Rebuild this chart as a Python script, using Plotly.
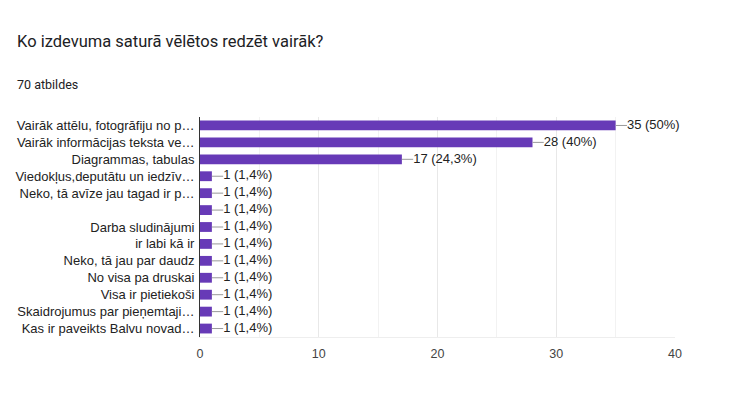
import plotly.graph_objects as go

categories = [
    "Vairāk attēlu, fotogrāfiju no p…",
    "Vairāk informācijas teksta ve…",
    "Diagrammas, tabulas",
    "Viedokļus,deputātu un iedzīv…",
    "Neko, tā avīze jau tagad ir p…",
    "",
    "Darba sludinājumi",
    "ir labi kā ir",
    "Neko, tā jau par daudz",
    "No visa pa druskai",
    "Visa ir pietiekoši",
    "Skaidrojumus par pieņemtaji…",
    "Kas ir paveikts Balvu novad…",
]
values = [35, 28, 17, 1, 1, 1, 1, 1, 1, 1, 1, 1, 1]
percents = ["50%", "40%", "24,3%", "1,4%", "1,4%", "1,4%", "1,4%", "1,4%",
            "1,4%", "1,4%", "1,4%", "1,4%", "1,4%"]
x_ticks = [0, 10, 20, 30, 40]

pos = list(range(len(categories)))
labels = [f"{v} ({p})" for v, p in zip(values, percents)]
conn = 0.95

W, H = 746, 390
ML, MR, MT, MB = 192, 79, 109, 61

fig = go.Figure()
fig.add_trace(go.Bar(
    x=values, y=pos, orientation="h",
    marker=dict(color="#673ab7", line=dict(width=0)),
    hoverinfo="skip",
))
cx, cy = [], []
for v, p in zip(values, pos):
    cx += [v, v + conn, None]
    cy += [p, p, None]
fig.add_trace(go.Scatter(x=cx, y=cy, mode="lines",
                         line=dict(color="#999999", width=1), hoverinfo="skip"))
fig.add_trace(go.Scatter(
    x=[v + conn for v in values], y=pos, mode="text", text=labels,
    textposition="middle right",
    textfont=dict(family="Arial, Liberation Sans", size=13, color="#222222"),
    hoverinfo="skip", cliponaxis=False,
))

plot_h = H - MT - MB
plot_w = W - ML - MR
def px_x(px):
    return (px - 8 - ML) / plot_w
def px_y(py):
    return (H - MB - (py - 8)) / plot_h

fig.update_layout(
    width=W, height=H,
    margin=dict(l=ML, r=MR, t=MT, b=MB),
    paper_bgcolor="white", plot_bgcolor="white",
    showlegend=False, bargap=0.42,
    font=dict(family="Arial, Liberation Sans", size=13, color="#222222"),
    annotations=[
        dict(text="Ko izdevuma saturā vēlētos redzēt vairāk?", xref="paper", yref="paper",
             x=px_x(15), y=px_y(41), xanchor="left", yanchor="middle", showarrow=False,
             font=dict(family="Roboto", size=16.5, color="#202124")),
        dict(text="70 atbildes", xref="paper", yref="paper",
             x=px_x(15), y=px_y(85), xanchor="left", yanchor="middle", showarrow=False,
             font=dict(family="Roboto", size=12.5, color="#202124")),
    ],
)

fig.update_xaxes(
    automargin=False,
    range=[0, 40], tickvals=x_ticks, ticks="", showgrid=True,
    gridcolor="#e8e8e8", gridwidth=1,
    minor=dict(dtick=5, showgrid=True, gridcolor="#f2f2f2", gridwidth=1),
    zeroline=False, showline=True, linecolor="#eeeeee", linewidth=1,
    tickfont=dict(family="Arial, Liberation Sans", size=12.5, color="#444444"),
    ticklabelstandoff=5,
)
fig.update_yaxes(
    automargin=False,
    tickvals=pos, ticktext=categories, range=[len(categories) - 0.5, -0.5],
    showgrid=False, zeroline=False, showline=True, linecolor="#333333", linewidth=1,
    ticks="", ticklabelstandoff=2,
    tickfont=dict(family="Arial, Liberation Sans", size=13, color="#222222"),
)
fig.write_html("out.html")
